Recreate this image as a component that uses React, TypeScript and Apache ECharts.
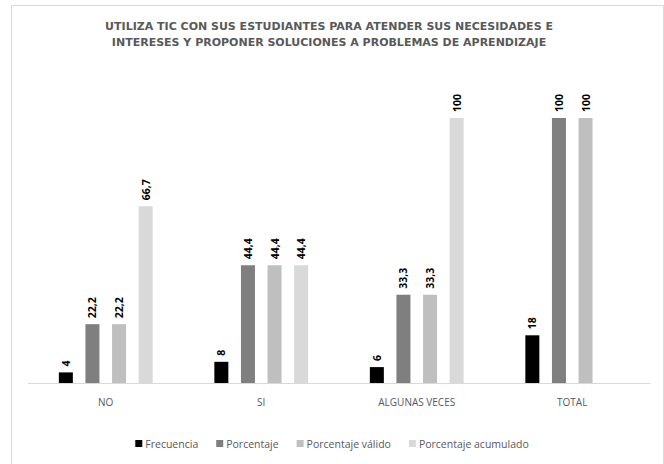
import React, { useEffect, useRef } from "react";
import * as echarts from "echarts";

const categories = ["NO", "SI", "ALGUNAS VECES", "TOTAL"];
const frecuencia = [4, 8, 6, 18];
const porcentaje = [22.2, 44.4, 33.3, 100];
const porcentajeValido = [22.2, 44.4, 33.3, 100];
const porcentajeAcumulado: (number | null)[] = [66.7, 44.4, 100, null];
const seriesNames = ["Frecuencia", "Porcentaje", "Porcentaje válido", "Porcentaje acumulado"];
const seriesColors = ["#000000", "#7f7f7f", "#bfbfbf", "#d9d9d9"];
const titleText =
  "UTILIZA TIC CON SUS ESTUDIANTES PARA ATENDER SUS NECESIDADES E\nINTERESES Y PROPONER SOLUCIONES A PROBLEMAS DE APRENDIZAJE";

const FONT = "'Open Sans', 'Liberation Sans', sans-serif";

export default function App() {
  const ref = useRef<HTMLDivElement>(null);
  useEffect(() => {
    if (!ref.current) return;
    const chart = echarts.init(ref.current, undefined, { renderer: "svg" });
    const datasets = [frecuencia, porcentaje, porcentajeValido, porcentajeAcumulado];
    chart.setOption({
      animation: false,
      backgroundColor: "#ffffff",
      title: {
        text: titleText,
        left: 329,
        textAlign: "center",
        top: 18,
        padding: 0,
        textStyle: {
          fontFamily: "'DejaVu Sans', sans-serif",
          fontSize: 11,
          fontWeight: "bold",
          color: "#595959",
          lineHeight: 16,
        },
      },
      legend: {
        bottom: 10,
        left: "center",
        itemWidth: 7,
        itemHeight: 7,
        itemGap: 18,
        icon: "rect",
        textStyle: { fontFamily: FONT, fontSize: 10.5, color: "#595959", padding: [0, 0, 0, -2] },
        data: seriesNames,
      },
      grid: { left: 28, right: 14, top: 65, bottom: 81, containLabel: false },
      xAxis: {
        type: "category",
        data: categories,
        axisLine: { lineStyle: { color: "#d9d9d9", width: 1 } },
        axisTick: { show: false },
        axisLabel: {
          fontFamily: FONT,
          fontSize: 10,
          color: "#595959",
          margin: 14,
        },
      },
      yAxis: {
        type: "value",
        min: 0,
        max: 120,
        show: false,
        splitLine: { show: false },
      },
      graphic: [
        {
          type: "rect",
          shape: { x: 11.5, y: 5.5, width: 652, height: 470 },
          style: { fill: "none", stroke: "#d9d9d9", lineWidth: 1 },
          silent: true,
          z: -1,
        },
      ],
      series: datasets.map((d, i) => ({
        name: seriesNames[i],
        type: "bar",
        data: d,
        barWidth: 14,
        barGap: "90%",
        itemStyle: { color: seriesColors[i] },
        label: {
          show: true,
          position: "top",
          rotate: 90,
          align: "left",
          verticalAlign: "middle",
          distance: 6,
          fontFamily: FONT,
          fontSize: 10.5,
          fontWeight: "bold",
          color: "#000000",
          formatter: (p: any) => String(p.value).replace(".", ","),
        },
      })),
    });
    return () => chart.dispose();
  }, []);
  return (
    <div
      ref={ref}
      style={{ position: "fixed", left: 0, top: 0, width: 664, height: 464 }}
    />
  );
}
